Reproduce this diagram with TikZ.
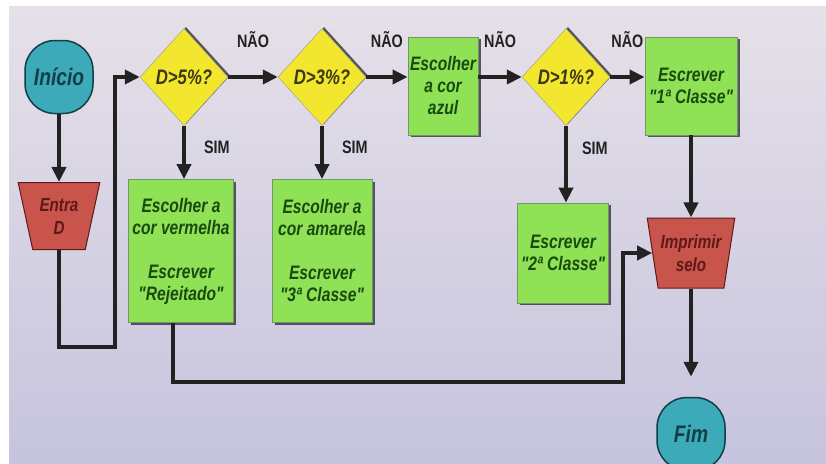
\documentclass[tikz,border=0pt]{standalone}
\usepackage{fontspec}
\newfontfamily\chartfont{Liberation Sans}[FakeStretch=0.8]
\usetikzlibrary{arrows.meta, positioning, shapes.geometric, shadows}
\definecolor{bgtop}{HTML}{E6E0E8}
\definecolor{bgbot}{HTML}{C6C4DE}
\definecolor{termteal}{HTML}{3CAAB9}
\definecolor{termdark}{HTML}{123E47}
\definecolor{iored}{HTML}{C8544C}
\definecolor{iodark}{HTML}{5E1A18}
\definecolor{decyellow}{HTML}{F3E62E}
\definecolor{decdark}{HTML}{3B3812}
\definecolor{procgreen}{HTML}{8FE255}
\definecolor{procdark}{HTML}{1A4A10}
\definecolor{flowblack}{HTML}{222222}

\begin{document}
\begin{tikzpicture}[x=1pt, y=-1pt,
    every node/.style={font=\chartfont\bfseries\itshape\fontsize{19.5}{22}\selectfont, align=center, inner sep=0pt},
    term/.style={draw=termdark, line width=1.5pt, fill=termteal, text=termdark, rounded corners=30pt,
        minimum width=68pt, minimum height=73pt, font=\chartfont\bfseries\itshape\fontsize{24}{26}\selectfont},
    io/.style={trapezium, trapezium stretches=true, draw=iodark, line width=1pt, fill=iored, text=iodark,
        font=\chartfont\bfseries\itshape\fontsize{19}{23}\selectfont},
    dec/.style={diamond, aspect=1, fill=decyellow, draw=decdark!50, text=decdark, minimum width=88pt, minimum height=97pt,
        font=\chartfont\bfseries\itshape\fontsize{21}{23}\selectfont,
        drop shadow={shadow xshift=2pt, shadow yshift=1.5pt, fill=black!80, opacity=0.8}},
    proc/.style={rectangle, fill=procgreen, draw=procdark!60, line width=0.8pt, text=procdark,
        drop shadow={shadow xshift=2.5pt, shadow yshift=-2pt, fill=black!80, opacity=0.8}},
    flow/.style={line width=4pt, flowblack, -{Triangle[length=15pt, width=14pt]}},
    lbl/.style={font=\chartfont\bfseries\fontsize{18}{20}\selectfont, text=flowblack}
]
% Background
\clip (0,0) rectangle (826,463);
\fill[white] (0,0) rectangle (826,463);
\shade[top color=bgtop, bottom color=bgbot] (9,6) rectangle (826,463);

% Start and input
\node[term] (ini) at (59,77) {Início};
\node[io, minimum width=82pt, minimum height=67pt, trapezium left angle=106.6, trapezium right angle=106.6] (entra) at (59,216) {Entra\\D};

% Decisions
\node[dec] (d5) at (184,77) {D>5\%?};
\node[dec] (d3) at (322,77) {D>3\%?};
\node[dec] (d1) at (566,77) {D>1\%?};

% Processes
\node[proc, minimum width=70pt, minimum height=98pt] (azul) at (443,86) {Escolher\\a cor\\azul};
\node[proc, minimum width=92pt, minimum height=98pt] (classe1) at (691,86) {Escrever\\"1ª Classe"};
\node[proc, minimum width=105pt, minimum height=143pt] (verm) at (181,251) {Escolher a\\cor vermelha\\[22pt]Escrever\\"Rejeitado"};
\node[proc, minimum width=100pt, minimum height=143pt] (amar) at (322,251) {Escolher a\\cor amarela\\[22pt]Escrever\\"3ª Classe"};
\node[proc, minimum width=91pt, minimum height=100pt] (classe2) at (563,253) {Escrever\\"2ª Classe"};

% Output and end
\node[io, minimum width=88pt, minimum height=70pt, trapezium left angle=105.2, trapezium right angle=105.2] (imp) at (691,253) {Imprimir\\selo};
\node[term] (fim) at (691,434) {Fim};

% Connectors
\coordinate (loop) at (115,347);
\coordinate (low) at (623,382);
\draw[flow] (ini) -- (entra);
\draw[flow] (entra.south) |- (loop) |- (d5.west);
\draw[flow] (d5.east) -- node[lbl, midway, above=27pt] (n1) {NÃO} (d3.west);
\draw[flow] (d3.east) -- node[lbl, midway, above=27pt] (n2) {NÃO} (d3.east -| azul.west);
\draw[flow] (d1.west -| azul.east) -- node[lbl, midway, above=27pt] (n3) {NÃO} (d1.west);
\draw[flow] (d1.east) -- node[lbl, midway, above=27pt] (n4) {NÃO} (d1.east -| classe1.west);
\draw[flow] (d5.south) -- node[lbl, pos=0.4, right=18pt] (s1) {SIM} (d5.south |- verm.north);
\draw[flow] (d3.south) -- node[lbl, pos=0.4, right=18pt] (s2) {SIM} (d3.south |- amar.north);
\draw[flow] (d1.south) -- node[lbl, pos=0.3, right=14pt] (s3) {SIM} (d1.south |- classe2.north);
\draw[flow] (classe1.south) -- (classe1.south |- imp.north);
\draw[flow] ([xshift=-8pt]verm.south) |- (low) |- (imp.west);
\draw[flow, shorten >=20pt] (imp.south) -- (fim.north);
\end{tikzpicture}
\end{document}
